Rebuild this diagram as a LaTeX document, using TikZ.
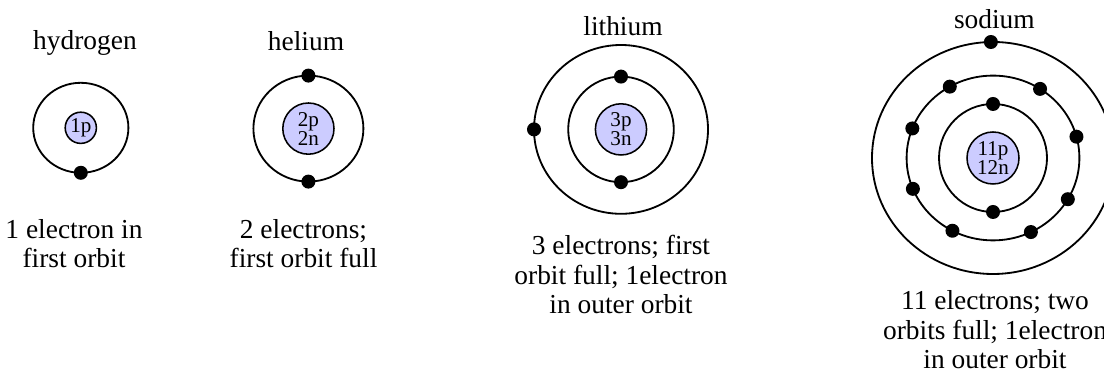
\documentclass[tikz,border=0pt]{standalone}
\usepackage{fontspec}
\setmainfont{Liberation Serif}
\usetikzlibrary{calc}

\begin{document}
\begin{tikzpicture}[font=\fontsize{19.5}{21}\selectfont,
 orbit/.style={draw,line width=1.3pt},
 nucleus/.style={circle,draw,line width=1.1pt,fill=blue!20,inner sep=0pt,align=center,font=\fontsize{15}{13.5}\selectfont},
 electron/.style={circle,fill=black,inner sep=0pt,minimum size=0.35cm},
 caption/.style={align=center,anchor=base}]
\useasboundingbox (0,0) rectangle (27.6,9.275);
% names of the atoms
\node[anchor=base] (thyd) at (2.125,8.025) {hydrogen};
\node[anchor=base] (thel) at (7.65,8.01) {helium};
\node[anchor=base] (tlit) at (15.575,8.375) {lithium};
\node[anchor=base] (tsod) at (24.86,8.57) {sodium};
% nuclei
\node[nucleus,minimum size=0.78cm] (hnuc) at (2.02,6.08) {1p};
\node[nucleus,minimum size=1.28cm] (henuc) at (7.71,6.06) {2p\\2n};
\node[nucleus,minimum size=1.28cm] (linuc) at (15.525,6.04) {3p\\3n};
\node[nucleus,minimum size=1.3cm] (nanuc) at (24.825,5.325) {11p\\12n};
% orbits
\draw[orbit] (hnuc) circle[x radius=1.19,y radius=1.125];
\draw[orbit] (henuc) circle[x radius=1.375,y radius=1.325];
\draw[orbit] (linuc) circle[radius=1.32];
\draw[orbit] (linuc) circle[x radius=2.175,y radius=2.11];
\draw[orbit] (nanuc) circle[radius=1.35];
\draw[orbit] (nanuc) circle[x radius=2.16,y radius=2.06];
\draw[orbit] (nanuc) circle[x radius=3.025,y radius=2.9];
% electrons
\node[electron] (h1) at ($(hnuc)+(-90:1.19 and 1.125)$) {};
\node[electron] (he1) at ($(henuc)+(90:1.375 and 1.325)$) {};
\node[electron] (he2) at ($(henuc)+(-90:1.375 and 1.325)$) {};
\node[electron] (li1) at ($(linuc)+(90:1.32)$) {};
\node[electron] (li2) at ($(linuc)+(-90:1.32)$) {};
\node[electron] (li3) at ($(linuc)+(180:2.175 and 2.11)$) {};
\node[electron] (na1) at ($(nanuc)+(90:1.35)$) {};
\node[electron] (na2) at ($(nanuc)+(-90:1.35)$) {};
\node[electron] (na3) at ($(nanuc)+(15:2.16 and 2.06)$) {};
\node[electron] (na4) at ($(nanuc)+(57:2.16 and 2.06)$) {};
\node[electron] (na5) at ($(nanuc)+(120:2.16 and 2.06)$) {};
\node[electron] (na6) at ($(nanuc)+(159:2.16 and 2.06)$) {};
\node[electron] (na7) at ($(nanuc)+(202:2.16 and 2.06)$) {};
\node[electron] (na8) at ($(nanuc)+(242:2.16 and 2.06)$) {};
\node[electron] (na9) at ($(nanuc)+(296:2.16 and 2.06)$) {};
\node[electron] (na10) at ($(nanuc)+(330:2.16 and 2.06)$) {};
\node[electron] (na11) at ($(nanuc)+(91:3.025 and 2.9)$) {};
% captions (base = last line)
\node[caption] (chyd) at (1.85,2.575) {1 electron in\\first orbit};
\node[caption] (chel) at (7.5875,2.575) {2 electrons;\\first orbit full};
\node[caption] (clit) at (15.525,1.425) {3 electrons; first\\orbit full; 1electron\\in outer orbit};
\node[caption] (csod) at (24.875,0.06) {11 electrons; two\\orbits full; 1electron\\in outer orbit};
\end{tikzpicture}
\end{document}
